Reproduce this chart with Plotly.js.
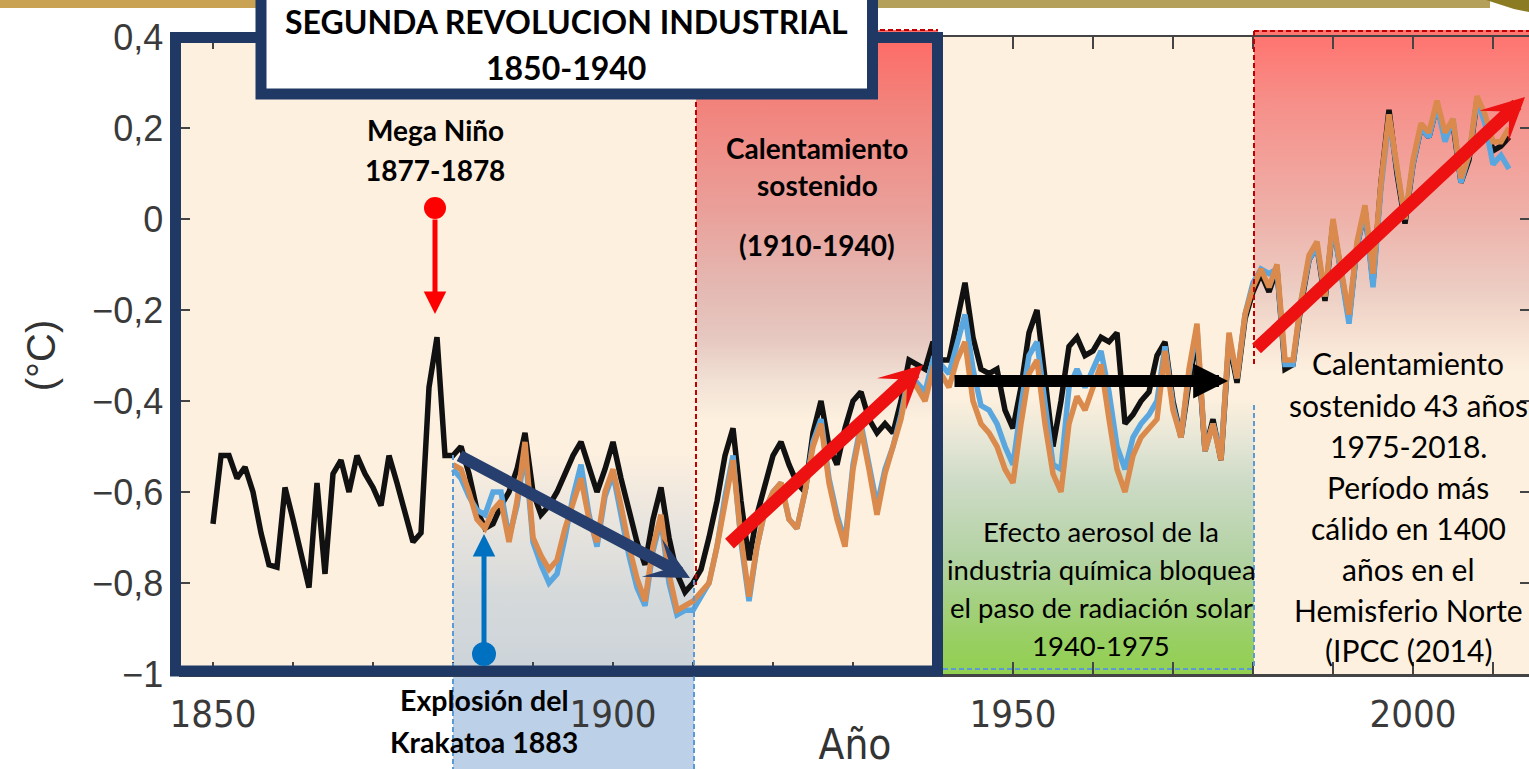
<!DOCTYPE html>
<html>
<head>
<meta charset="utf-8">
<script src="https://cdn.plot.ly/plotly-3.0.1.min.js"></script>
<style>
  html, body { margin: 0; padding: 0; background: #ffffff; }
  #chart { width: 1529px; height: 769px; }
</style>
</head>
<body>
<div id="chart"></div>
<script>
// ---------------- DATA ----------------
const blackStartYear = 1850;
const blackValues = [
  -0.67, -0.52, -0.52, -0.57, -0.545, -0.60, -0.69, -0.76, -0.765, -0.59,   // 1850-1859
  -0.66, -0.74, -0.81, -0.58, -0.78, -0.56, -0.53, -0.60, -0.52, -0.56,     // 1860-1869
  -0.59, -0.63, -0.52, -0.58, -0.65, -0.71, -0.69, -0.37, -0.26, -0.52,     // 1870-1879
  -0.52, -0.50, -0.56, -0.64, -0.68, -0.67, -0.63, -0.60, -0.55, -0.47,     // 1880-1889
  -0.60, -0.65, -0.63, -0.60, -0.56, -0.52, -0.49, -0.55, -0.60, -0.55,     // 1890-1899
  -0.49, -0.57, -0.64, -0.71, -0.76, -0.66, -0.59, -0.70, -0.78, -0.82,     // 1900-1909
  -0.80, -0.77, -0.70, -0.62, -0.52, -0.46, -0.62, -0.75, -0.65, -0.58,     // 1910-1919
  -0.52, -0.49, -0.54, -0.58, -0.60, -0.47, -0.40, -0.50, -0.54, -0.46,     // 1920-1929
  -0.40, -0.38, -0.44, -0.47, -0.45, -0.47, -0.40, -0.31, -0.32, -0.33,     // 1930-1939
  -0.27, -0.31, -0.31, -0.22, -0.14, -0.26, -0.33, -0.34, -0.33, -0.42,     // 1940-1949
  -0.46, -0.37, -0.25, -0.20, -0.36, -0.50, -0.40, -0.28, -0.26, -0.30,     // 1950-1959
  -0.29, -0.26, -0.27, -0.25, -0.45, -0.43, -0.40, -0.38, -0.30, -0.27,     // 1960-1969
  -0.40, -0.48, -0.36, -0.26, -0.51, -0.44, -0.53, -0.27, -0.36, -0.22,     // 1970-1979
  -0.16, -0.12, -0.16, -0.11, -0.33, -0.32, -0.19, -0.09, -0.06, -0.18,     // 1980-1989
  -0.01, -0.12, -0.22, -0.06, 0.02, -0.14, 0.08, 0.24, 0.10, -0.01,         // 1990-1999
  0.12, 0.20, 0.18, 0.25, 0.18, 0.21, 0.08, 0.13, 0.26, 0.22,               // 2000-2009
  0.15, 0.16, 0.18                                                          // 2010-2012
];

const colourStartYear = 1880;
const blueValues = [
  -0.55, -0.57, -0.61, -0.64, -0.65, -0.60, -0.60, -0.70, -0.63, -0.51,     // 1880-1889
  -0.71, -0.76, -0.80, -0.78, -0.70, -0.61, -0.54, -0.65, -0.72, -0.61,     // 1890-1899
  -0.56, -0.65, -0.74, -0.81, -0.85, -0.73, -0.66, -0.80, -0.87, -0.86,     // 1900-1909
  -0.86, -0.83, -0.80, -0.72, -0.61, -0.52, -0.71, -0.84, -0.72, -0.64,     // 1910-1919
  -0.60, -0.58, -0.66, -0.68, -0.60, -0.49, -0.44, -0.57, -0.65, -0.71,     // 1920-1929
  -0.54, -0.45, -0.54, -0.63, -0.55, -0.50, -0.43, -0.34, -0.36, -0.38,     // 1930-1939
  -0.31, -0.32, -0.34, -0.27, -0.21, -0.33, -0.41, -0.42, -0.45, -0.50,     // 1940-1949
  -0.54, -0.41, -0.30, -0.27, -0.41, -0.54, -0.55, -0.37, -0.33, -0.37,     // 1950-1959
  -0.33, -0.29, -0.38, -0.50, -0.55, -0.48, -0.45, -0.43, -0.40, -0.28,     // 1960-1969
  -0.41, -0.48, -0.34, -0.24, -0.51, -0.45, -0.52, -0.26, -0.35, -0.21,     // 1970-1979
  -0.14, -0.11, -0.12, -0.11, -0.32, -0.32, -0.18, -0.09, -0.06, -0.17,     // 1980-1989
  -0.01, -0.12, -0.23, -0.06, 0.02, -0.15, 0.07, 0.22, 0.10, 0.00,          // 1990-1999
  0.12, 0.20, 0.18, 0.25, 0.17, 0.22, 0.08, 0.14, 0.26, 0.21,               // 2000-2009
  0.12, 0.14, 0.11                                                          // 2010-2012
];
const orangeValues = [
  -0.54, -0.55, -0.60, -0.66, -0.68, -0.64, -0.62, -0.71, -0.62, -0.49,     // 1880-1889
  -0.70, -0.74, -0.77, -0.75, -0.68, -0.62, -0.57, -0.66, -0.71, -0.60,     // 1890-1899
  -0.55, -0.63, -0.72, -0.79, -0.84, -0.72, -0.65, -0.78, -0.86, -0.85,     // 1900-1909
  -0.84, -0.82, -0.80, -0.72, -0.62, -0.53, -0.70, -0.83, -0.72, -0.64,     // 1910-1919
  -0.60, -0.58, -0.66, -0.68, -0.60, -0.50, -0.45, -0.58, -0.66, -0.72,     // 1920-1929
  -0.55, -0.46, -0.55, -0.65, -0.56, -0.50, -0.44, -0.35, -0.37, -0.40,     // 1930-1939
  -0.33, -0.34, -0.37, -0.31, -0.27, -0.40, -0.45, -0.47, -0.50, -0.55,     // 1940-1949
  -0.58, -0.45, -0.34, -0.31, -0.45, -0.56, -0.60, -0.45, -0.39, -0.42,     // 1950-1959
  -0.37, -0.32, -0.44, -0.55, -0.60, -0.52, -0.48, -0.46, -0.44, -0.29,     // 1960-1969
  -0.42, -0.48, -0.33, -0.23, -0.51, -0.45, -0.53, -0.25, -0.35, -0.21,     // 1970-1979
  -0.15, -0.11, -0.15, -0.10, -0.31, -0.31, -0.18, -0.08, -0.05, -0.17,     // 1980-1989
  0.00, -0.11, -0.21, -0.05, 0.03, -0.12, 0.08, 0.23, 0.11, 0.00,           // 1990-1999
  0.13, 0.21, 0.19, 0.26, 0.19, 0.22, 0.09, 0.14, 0.27, 0.23,               // 2000-2009
  0.17, 0.17, 0.20                                                          // 2010-2012
];

const xTickVals = [1850, 1900, 1950, 2000];
const xTickText = ['1850', '1900', '1950', '2000'];
const yTickVals = [-1, -0.8, -0.6, -0.4, -0.2, 0, 0.2, 0.4];
const yTickText = ['\u22121', '\u22120,8', '\u22120,6', '\u22120,4', '\u22120,2', '0', '0,2', '0,4'];

const xTitle = 'Año';
const yTitle = '(°C)';

// ---------------- LAYOUT GEOMETRY ----------------
const W = 1529, H = 769;
const L = 181, R = 1529, T = 37, B = 674;
const xRange = [1846, 2014.5];
const yRange = [-1, 0.4];

function yearsFrom(start, n) { const a = []; for (let i = 0; i < n; i++) a.push(start + i); return a; }
const blackYears = yearsFrom(blackStartYear, blackValues.length);
const colourYears = yearsFrom(colourStartYear, orangeValues.length);

// pixel -> paper / data helpers for the decorations
function px(x) { return (x - L) / (R - L); }
function py(y) { return (B - y) / (B - T); }
function yr(x) { return xRange[0] + (x - L) / (R - L) * (xRange[1] - xRange[0]); }
function val(y) { return yRange[1] - (y - T) / (B - T) * (yRange[1] - yRange[0]); }

function gradBox(x0, x1, y0, y1, stops) {
  const xa = yr(x0), xb = yr(x1), ya = val(y1), yb = val(y0);
  return {
    type: 'scatter', mode: 'none', x: [xa, xb, xb, xa, xa], y: [ya, ya, yb, yb, ya],
    fill: 'toself', hoverinfo: 'skip', showlegend: false,
    fillgradient: { type: 'vertical', colorscale: stops, start: ya, stop: yb }
  };
}

const decorTraces = [
  gradBox(453, 694, 455, 674, [[0, '#ccd4da'], [0.35, '#d5d9da'], [0.75, '#ece6de'], [1, '#fcefdf']]),
  gradBox(696, 938, 37, 420, [[0, '#fdf0de'], [0.095, '#f2e2d6'], [0.214, '#e6c8c0'], [0.333, '#e4bab4'],
                              [0.571, '#eb9d97'], [0.833, '#f2827b'], [1, '#ff6b66']]),
  gradBox(943, 1254, 400, 674, [[0, '#92d050'], [0.133, '#99cf64'], [0.417, '#b2d2a2'], [0.70, '#cddbc6'],
                                [0.85, '#e6e6d6'], [1, '#fcefdd']]),
  gradBox(1254, 1529, 37, 372, [[0, '#fdf0de'], [0.253, '#ecccc2'], [0.457, '#eeb2aa'], [0.796, '#f6908a'], [1, '#ff7570']])
];

const lineTraces = [
  { type: 'scatter', mode: 'lines', x: blackYears, y: blackValues, name: 'black',
    line: { color: '#111111', width: 5.5 }, hoverinfo: 'skip', showlegend: false },
  { type: 'scatter', mode: 'lines', x: colourYears, y: blueValues, name: 'blue',
    line: { color: '#5aa6de', width: 5.5 }, hoverinfo: 'skip', showlegend: false },
  { type: 'scatter', mode: 'lines', x: colourYears, y: orangeValues, name: 'orange',
    line: { color: '#d98a4c', width: 5.5 }, hoverinfo: 'skip', showlegend: false }
];

function rect(x0, y0, x1, y1, fill, lineColor, lineWidth, layer) {
  return { type: 'rect', xref: 'paper', yref: 'paper', x0: px(x0), x1: px(x1), y0: py(y1), y1: py(y0),
           fillcolor: fill, line: { color: lineColor || 'rgba(0,0,0,0)', width: lineWidth || 0 }, layer: layer || 'below' };
}
function dline(x0, y0, x1, y1, color) {
  return { type: 'line', xref: 'paper', yref: 'paper', x0: px(x0), x1: px(x1), y0: py(y0), y1: py(y1),
           line: { color: color, width: 2, dash: '5px,3px' }, layer: 'above' };
}
function dot(cx, cy, r, color) {
  return { type: 'circle', xref: 'paper', yref: 'paper', x0: px(cx - r), x1: px(cx + r), y0: py(cy + r), y1: py(cy - r),
           fillcolor: color, line: { width: 0 }, layer: 'above' };
}

const shapes = [
  rect(0, 0, 760, 8, '#c9a254'),
  rect(760, 0, 1490, 8, '#b5a05b'),
  { type: 'path', xref: 'paper', yref: 'paper', layer: 'below', fillcolor: '#8b7b22', line: { width: 0 },
    path: 'M' + px(1486) + ',' + py(0) + ' L' + px(1529) + ',' + py(0) + ' L' + px(1529) + ',' + py(12) + ' L' + px(1514) + ',' + py(9) + ' Z' },
  rect(696, 30, 938, 37, '#ff6b66'),
  rect(1254, 30, 1529, 37, '#ff7570'),
  rect(453, 674, 694, 769, '#bcd1e8'),
  dline(696, 30, 938, 30, '#c00000'),
  dline(696, 30, 696, 585, '#c00000'),
  dline(1254, 31, 1529, 31, '#c00000'),
  dline(1254, 31, 1254, 367, '#c00000'),
  dline(453, 455, 453, 769, '#5b9bd5'),
  dline(694, 580, 694, 769, '#5b9bd5'),
  dline(1254, 405, 1254, 669, '#5b9bd5'),
  dline(943, 669, 1254, 669, '#5b9bd5'),
  rect(175.5, 37.5, 937.5, 671, 'rgba(0,0,0,0)', '#203864', 11, 'above'),
  rect(261, -20, 872.5, 94, '#ffffff', '#203864', 11, 'above'),
  dot(435, 208, 11, '#ff0000'),
  dot(484, 654, 12, '#0070c0')
];

const FONT = 'Lato, "Open Sans", "Noto Sans", sans-serif';
function txt(x, y, text, size, bold) {
  return { xref: 'paper', yref: 'paper', x: px(x), y: py(y), text: bold ? '<b>' + text + '</b>' : text,
           showarrow: false, xanchor: 'center', yanchor: 'middle',
           font: { family: FONT, size: size, color: '#000000' } };
}
function arrow(x0, y0, x1, y1, color, width, head, size) {
  return { xref: 'paper', yref: 'paper', x: px(x1), y: py(y1), axref: 'pixel', ayref: 'pixel',
           ax: x0 - x1, ay: y0 - y1, text: '', showarrow: true, arrowcolor: color, arrowwidth: width,
           arrowhead: head, arrowsize: size, standoff: 0 };
}

const annotations = [
  arrow(435, 218, 435, 314, '#ff0000', 5, 2, 0.9),
  arrow(484, 645, 484, 534, '#0070c0', 5, 2, 0.9),
  arrow(458, 455, 690, 578, '#263f6e', 12, 3, 0.6),
  arrow(728, 545, 923, 365, '#ee1111', 13, 3, 0.55),
  arrow(953, 381, 1228, 381, '#000000', 12, 2, 0.58),
  arrow(1255, 350, 1525, 97, '#ee1111', 13, 3, 0.55),

  txt(566, 22, 'SEGUNDA REVOLUCION INDUSTRIAL', 32, true),
  txt(566, 68, '1850-1940', 32, true),
  txt(435, 130, 'Mega Niño', 28, true),
  txt(435, 170, '1877-1878', 28, true),
  txt(817, 148, 'Calentamiento', 28, true),
  txt(817, 185, 'sostenido', 28, true),
  txt(817, 245, '(1910-1940)', 28, true),
  txt(484, 700, 'Explosión del', 28.5, true),
  txt(484, 742, 'Krakatoa 1883', 28.5, true),

  txt(1101, 531, 'Efecto aerosol de la', 27.5, false),
  txt(1101, 569, 'industria química bloquea', 27.5, false),
  txt(1101, 607, 'el paso de radiación solar', 27.5, false),
  txt(1101, 645, '1940-1975', 27.5, false),

  txt(1408, 363, 'Calentamiento', 30, false),
  txt(1408, 405, 'sostenido 43 años', 30, false),
  txt(1408, 446, '1975-2018.', 30, false),
  txt(1408, 487, 'Período más', 30, false),
  txt(1408, 528, 'cálido en 1400', 30, false),
  txt(1408, 569, 'años en el', 30, false),
  txt(1408, 610, 'Hemisferio Norte', 30, false),
  txt(1408, 650, '(IPCC (2014)', 30, false)
];

const layout = {
  width: W, height: H,
  margin: { l: L, r: W - R, t: T, b: H - B, pad: 0 },
  paper_bgcolor: '#ffffff',
  plot_bgcolor: '#fdf0de',
  showlegend: false,
  separators: ',.',
  xaxis: {
    range: xRange, showgrid: false, zeroline: false,
    showline: true, linecolor: '#444444', linewidth: 2.5, mirror: 'ticks',
    tickmode: 'array', tickvals: xTickVals, ticktext: xTickText,
    ticks: 'inside', ticklen: 12, tickwidth: 2, tickcolor: '#444444',
    minor: { tickmode: 'linear', tick0: 1850, dtick: 10, ticks: 'inside', ticklen: 12, tickwidth: 2, tickcolor: '#444444', showgrid: false },
    ticklabelstandoff: 5,
    tickfont: { family: '"Liberation Sans Narrow", "DejaVu Sans Condensed", sans-serif', size: 38, color: '#3a3a3a' },
    title: { text: xTitle, standoff: 6, font: { family: '"Liberation Sans Narrow", "DejaVu Sans Condensed", sans-serif', size: 42, color: '#333333' } }
  },
  yaxis: {
    range: yRange, showgrid: false, zeroline: false,
    showline: true, linecolor: '#444444', linewidth: 2.5, mirror: 'ticks',
    tickmode: 'array', tickvals: yTickVals, ticktext: yTickText,
    ticks: 'inside', ticklen: 9, tickwidth: 2, tickcolor: '#444444',
    ticklabelstandoff: 8,
    tickfont: { family: '"Liberation Sans", Arial, sans-serif', size: 36, color: '#3a3a3a' },
    title: { text: yTitle, standoff: 24, font: { family: '"Liberation Sans", Arial, sans-serif', size: 40, color: '#333333' } }
  },
  shapes: shapes,
  annotations: annotations
};

Plotly.newPlot('chart', decorTraces.concat(lineTraces), layout, { staticPlot: true, displayModeBar: false });
</script>
</body>
</html>
